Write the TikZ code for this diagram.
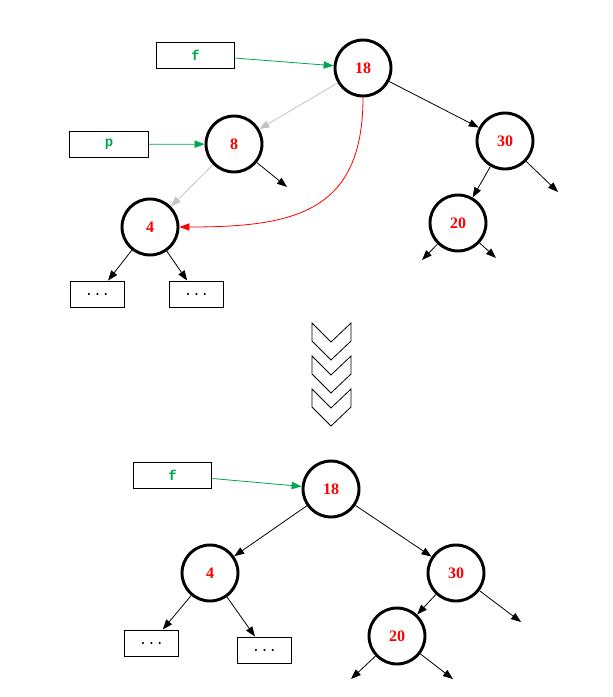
\documentclass[tikz,border=0pt]{standalone}
\usepackage{fontspec}
\setmainfont{Liberation Serif}
\newfontfamily\codefont{Liberation Mono}
\usetikzlibrary{arrows.meta,positioning}
\definecolor{ptrgreen}{RGB}{0,166,80}
\definecolor{oldgray}{RGB}{195,195,195}

\begin{document}
\begin{tikzpicture}[
    x=0.75pt, y=-0.75pt,
    keynode/.style={circle, draw, line width=2.2pt, minimum size=42pt, inner sep=0pt, text=red, font=\bfseries\fontsize{12}{12}\selectfont},
    ptrbox/.style={rectangle, draw, line width=0.7pt, minimum width=59pt, minimum height=19.5pt, inner sep=0pt, text=ptrgreen, font=\codefont\bfseries\fontsize{10.5}{10.5}\selectfont},
    dotbox/.style={rectangle, draw, line width=0.7pt, minimum width=41pt, minimum height=19.5pt, inner sep=0pt, font=\codefont\fontsize{10.5}{10.5}\selectfont},
    arrow/.style={-{Triangle[length=7.5pt,width=5.5pt]}, line width=0.6pt},
]
\useasboundingbox (0,0) rectangle (613,697);

% ====== Before: tree with pointers ======
\node[keynode] (top18) at (363,68) {18};
\node[keynode] (top8) at (234,144) {8};
\node[keynode] (top4) at (150,227) {4};
\node[keynode] (top30) at (505,141) {30};
\node[keynode] (top20) at (458,223) {20};

\node[ptrbox] (topf) at (195.5,55) {f};
\node[ptrbox] (topp) at (109,144.5) {p};

\node[dotbox] (topdots1) at (97.5,294) {...};
\node[dotbox] (topdots2) at (196.5,294) {...};

\coordinate (top8r) at (287,187);
\coordinate (top30r) at (558,192);
\coordinate (top20l) at (422,260);
\coordinate (top20r) at (496,258);

\draw[arrow, ptrgreen] (topf) -- (top18);
\draw[arrow, ptrgreen] (topp) -- (top8);
\draw[arrow, oldgray] (top18) -- (top8);
\draw[arrow, oldgray] (top8) -- (top4);
\draw[arrow] (top8) -- (top8r);
\draw[arrow] (top18) -- (top30);
\draw[arrow] (top30) -- (top20);
\draw[arrow] (top30) -- (top30r);
\draw[arrow] (top20) -- (top20l);
\draw[arrow] (top20) -- (top20r);
\draw[arrow] (top4) -- (topdots1);
\draw[arrow] (top4) -- (topdots2);
\draw[arrow, red] (top18.south) .. controls +(0,115) and +(115,0) .. (top4.east);

% ====== Chevrons ======
\foreach \dy in {0,33,66}
    \draw[line width=0.6pt] (312,323+\dy) -- (331,342+\dy) -- (351,323+\dy) -- (351,341+\dy) -- (331,360+\dy) -- (312,341+\dy) -- cycle;

% ====== After: tree with 8 removed ======
\node[keynode] (bot18) at (331,489) {18};
\node[keynode] (bot4) at (210,573) {4};
\node[keynode] (bot30) at (456,573) {30};
\node[keynode] (bot20) at (397,636) {20};

\node[ptrbox] (botf) at (172.5,475) {f};

\node[dotbox] (botdots1) at (151.5,643) {...};
\node[dotbox] (botdots2) at (264.5,650) {...};

\coordinate (bot30r) at (521,622);
\coordinate (bot20l) at (351,679);
\coordinate (bot20r) at (453,679);

\draw[arrow, ptrgreen] (botf) -- (bot18);
\draw[arrow] (bot18) -- (bot4);
\draw[arrow] (bot18) -- (bot30);
\draw[arrow] (bot30) -- (bot20);
\draw[arrow] (bot30) -- (bot30r);
\draw[arrow] (bot20) -- (bot20l);
\draw[arrow] (bot20) -- (bot20r);
\draw[arrow] (bot4) -- (botdots1);
\draw[arrow] (bot4) -- (botdots2);

\end{tikzpicture}
\end{document}
